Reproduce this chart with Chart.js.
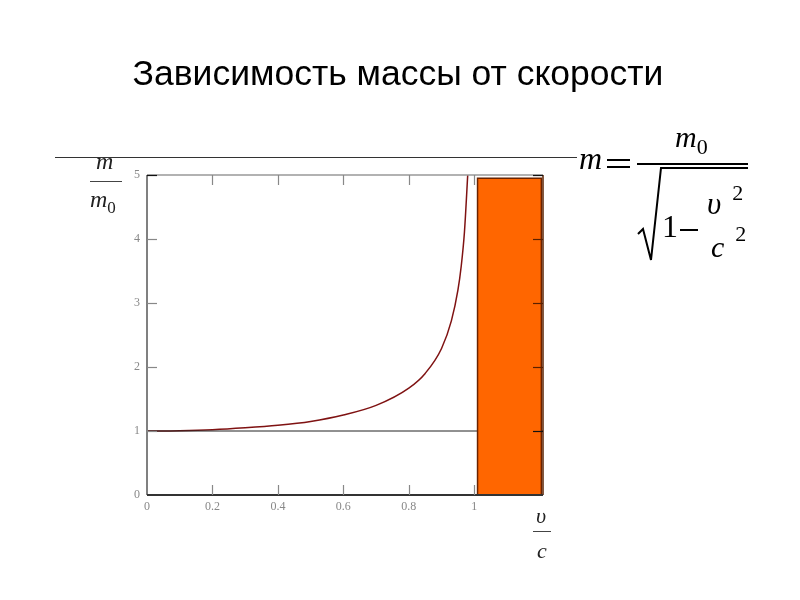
<!DOCTYPE html>
<html>
<head>
<meta charset="utf-8">
<script src="https://cdn.jsdelivr.net/npm/chart.js@4/dist/chart.umd.min.js"></script>
<style>
  html, body { margin: 0; padding: 0; background: #fff; }
  #wrap { position: relative; width: 800px; height: 600px; overflow: hidden; }
  #chart { position: absolute; left: 0; top: 0; }
  .t { position: absolute; white-space: nowrap; color: #000; }
  #title { left: 0; width: 796px; top: 53px; text-align: center; font: 35.5px "Liberation Sans", Arial, sans-serif; }
  #rule { position: absolute; left: 55px; top: 157px; width: 522px; height: 1px; background: #333; }
  .math { font-family: "Liberation Serif", "Times New Roman", serif; font-style: italic; }
  .up { font-style: normal; }
  .bar { position: absolute; background: #000; }
</style>
</head>
<body>
<div id="wrap">
  <canvas id="chart" width="800" height="600"></canvas>
  <div id="title" class="t">Зависимость массы от скорости</div>
  <div id="rule"></div>

  <!-- y label m/m0 -->
  <div class="t math" style="left:96px; top:148px; font-size:24px; color:#222;">m</div>
  <div class="bar" style="left:90px; top:181px; width:32px; height:1px; background:#444;"></div>
  <div class="t math" style="left:90px; top:186px; font-size:24px; color:#222;">m<span class="up" style="font-size:17px; position:relative; top:6px;">0</span></div>

  <!-- x label v/c -->
  <div class="t math" style="left:536px; top:503px; font-size:22px; color:#222;">υ</div>
  <div class="bar" style="left:533px; top:531px; width:18px; height:1px; background:#444;"></div>
  <div class="t math" style="left:537px; top:538px; font-size:22px; color:#222;">c</div>

  <!-- formula -->
  <div class="t math" style="left:579px; top:140px; font-size:32px;">m</div>
  <div class="bar" style="left:607px; top:159px; width:23px; height:2px;"></div>
  <div class="bar" style="left:607px; top:166px; width:23px; height:2px;"></div>
  <div class="t math" style="left:675px; top:120px; font-size:30px;">m<span class="up" style="font-size:22px; position:relative; top:7px;">0</span></div>
  <div class="bar" style="left:637px; top:163px; width:111px; height:2px;"></div>
  <svg style="position:absolute; left:0; top:0;" width="800" height="600">
    <polyline points="638,234 643,229 651,260 661,168 748,168" fill="none" stroke="#000" stroke-width="2"/>
  </svg>
  <div class="t up" style="left:662px; top:208px; font-size:32px; font-family:'Liberation Serif',serif;">1</div>
  <div class="bar" style="left:680px; top:229px; width:18px; height:2px;"></div>
  <div class="t math" style="left:707px; top:186px; font-size:31px;">υ<span class="up" style="font-size:22px; position:relative; top:-14px; left:11px;">2</span></div>
  <div class="t math" style="left:711px; top:230px; font-size:30px;">c<span class="up" style="font-size:22px; position:relative; top:-16px; left:11px;">2</span></div>
</div>

<script>
// ─── DATA ────────────────────────────────────────────────────────
const ratioX   = [0, 0.1, 0.2, 0.3, 0.4, 0.5, 0.6, 0.7, 0.8, 0.85, 0.9, 0.93, 0.95, 0.96, 0.97, 0.98];
const massY    = [1, 1.005, 1.02, 1.05, 1.09, 1.15, 1.25, 1.4, 1.67, 1.9, 2.29, 2.72, 3.2, 3.57, 4.11, 5.0];
const restLine = { x: [0, 1.21], y: [1, 1] };
const zoneX    = [1.01, 1.01, 1.205, 1.205];
const zoneY    = [0, 4.95, 4.95, 0];
const xTicks   = [0, 0.2, 0.4, 0.6, 0.8, 1];
const yTicks   = [0, 1, 2, 3, 4, 5];

const pts = (xs, ys) => xs.map((x, i) => ({ x, y: ys[i] }));

// ─── FRAME + INWARD TICKS ────────────────────────────────────────
const framePlugin = {
  id: 'frame',
  afterDatasetsDraw(chart) {
    const { ctx, chartArea: a, scales: { x, y } } = chart;
    ctx.save();
    // top + right
    ctx.strokeStyle = '#999'; ctx.lineWidth = 1.5;
    ctx.beginPath(); ctx.moveTo(a.left, a.top); ctx.lineTo(a.right, a.top); ctx.stroke();
    ctx.strokeStyle = '#5a2000'; ctx.lineWidth = 1.5;
    ctx.beginPath(); ctx.moveTo(a.right, a.top); ctx.lineTo(a.right, a.bottom); ctx.stroke();
    // left
    ctx.strokeStyle = '#808080'; ctx.lineWidth = 2;
    ctx.beginPath(); ctx.moveTo(a.left, a.top); ctx.lineTo(a.left, a.bottom); ctx.stroke();
    // bottom
    ctx.strokeStyle = '#333'; ctx.lineWidth = 2;
    ctx.beginPath(); ctx.moveTo(a.left, a.bottom); ctx.lineTo(a.right, a.bottom); ctx.stroke();

    ctx.lineWidth = 1.2;
    xTicks.slice(1).forEach(v => {
      const px = Math.round(x.getPixelForValue(v)) + 0.5;
      ctx.strokeStyle = '#888';
      ctx.beginPath(); ctx.moveTo(px, a.bottom); ctx.lineTo(px, a.bottom - 10); ctx.stroke();
      ctx.beginPath(); ctx.moveTo(px, a.top); ctx.lineTo(px, a.top + 10); ctx.stroke();
    });
    yTicks.slice(1).forEach(v => {
      const py = Math.round(y.getPixelForValue(v)) + 0.5;
      ctx.strokeStyle = v === 5 ? '#111' : '#888';
      ctx.beginPath(); ctx.moveTo(a.left, py); ctx.lineTo(a.left + 10, py); ctx.stroke();
      ctx.strokeStyle = v === 1 || v === 5 ? '#111' : '#5a2000';
      ctx.beginPath(); ctx.moveTo(a.right, py); ctx.lineTo(a.right - 10, py); ctx.stroke();
    });
    ctx.restore();
  }
};

const tickFont = { family: 'Liberation Serif', size: 12 };

new Chart(document.getElementById('chart'), {
  type: 'line',
  data: {
    datasets: [
      {
        data: pts(zoneX, zoneY),
        borderColor: '#6b2300', borderWidth: 1.5,
        backgroundColor: '#ff6600',
        fill: 'origin', pointRadius: 0, tension: 0
      },
      {
        data: pts(restLine.x, restLine.y),
        borderColor: '#222', borderWidth: 1,
        pointRadius: 0, fill: false
      },
      {
        data: pts(ratioX, massY),
        borderColor: '#7f1212', borderWidth: 1.5,
        pointRadius: 0, fill: false,
        cubicInterpolationMode: 'monotone'
      }
    ]
  },
  options: {
    responsive: false, animation: false,
    layout: { padding: { left: 127, top: 175, right: 257, bottom: 80 } },
    plugins: { legend: { display: false }, tooltip: { enabled: false } },
    scales: {
      x: {
        type: 'linear', min: 0, max: 1.21,
        afterBuildTicks: s => { s.ticks = xTicks.map(v => ({ value: v })); },
        afterFit: s => { s.height = 25; },
        grid: { display: false, drawTicks: false },
        border: { display: false },
        ticks: { font: tickFont, color: '#888', padding: 5, callback: v => String(v) }
      },
      y: {
        type: 'linear', min: 0, max: 5,
        afterBuildTicks: s => { s.ticks = yTicks.map(v => ({ value: v })); },
        afterFit: s => { s.width = 20; },
        grid: { display: false, drawTicks: false },
        border: { display: false },
        ticks: { font: tickFont, color: '#888', padding: 7, callback: v => String(v) }
      }
    }
  },
  plugins: [framePlugin]
});
</script>
</body>
</html>
